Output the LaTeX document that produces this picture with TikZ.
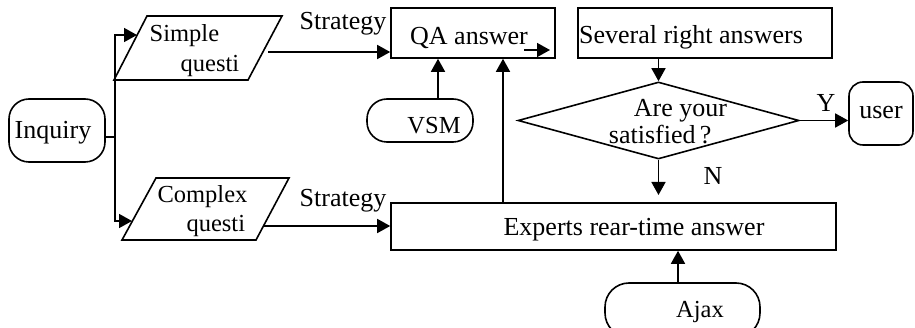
\documentclass[tikz,border=0pt]{standalone}
\usepackage{fontspec}
\setmainfont{Liberation Serif}
\usetikzlibrary{arrows.meta,shapes.geometric}
\begin{document}
\begin{tikzpicture}[x=1pt,y=-1pt,
  line width=1.6pt,
  shp/.style={draw,inner sep=0pt,line width=1.6pt},
  para/.style={draw,line width=1.6pt,line join=miter},
  txt/.style={font=\fontsize{26}{20}\selectfont,inner sep=0pt,anchor=base},
  stxt/.style={font=\fontsize{24.5}{20}\selectfont,inner sep=0pt,anchor=base},
  mtxt/.style={font=\fontsize{#1}{#1}\selectfont,inner sep=0pt,align=left,anchor=center},
  arr/.style={-{Triangle[length=13pt,width=14pt]},line width=1.6pt}]
\useasboundingbox (0,0) rectangle (915,328);
\fill[white] (0,0) rectangle (915,328);
\clip (0,0) rectangle (915,328);
% shapes
\node[shp,rounded corners=20pt,minimum width=96pt,minimum height=63pt] (inq) at (57,130.5) {};
\coordinate (sqbl) at (114,80); \coordinate (sqtl) at (147,16);
\coordinate (sqtr) at (282,16); \coordinate (sqbr) at (248,80);
\draw[para] (sqbl) -- (sqtl) -- (sqtr) -- (sqbr) -- cycle;
\coordinate (cqbl) at (122,240); \coordinate (cqtl) at (156,178);
\coordinate (cqtr) at (289,178); \coordinate (cqbr) at (256,240);
\draw[para] (cqbl) -- (cqtl) -- (cqtr) -- (cqbr) -- cycle;
\node[shp,minimum width=164pt,minimum height=50pt] (qa) at (473,33) {};
\node[shp,minimum width=254pt,minimum height=50pt] (sev) at (705,33) {};
\node[shp,diamond,minimum width=281pt,minimum height=77pt] (dia) at (658.5,120.5) {};
\node[shp,rounded corners=14pt,minimum width=64pt,minimum height=63pt] (user) at (881,113.5) {};
\node[shp,rounded corners=20pt,minimum width=106pt,minimum height=43pt] (vsm) at (420,120.5) {};
\node[shp,minimum width=445pt,minimum height=47pt] (exp) at (613.5,226.5) {};
\node[shp,rounded corners=24pt,minimum width=155pt,minimum height=54pt] (ajax) at (682.5,310) {};
% texts
\node[txt] (tinq) at (53,139) {Inquiry};
\node[mtxt=24.5] (tsq) at (194.5,50.5) {Simple\\[5pt]\hspace*{31pt}questi};
\node[mtxt=24.5] (tcq) at (202.5,211) {Complex\\[4pt]\hspace*{29pt}questi};
\node[txt] (ts1) at (343,30) {Strategy};
\node[txt] (ts2) at (343,207) {Strategy};
\node[txt] (tqa) at (469,45) {QA answer};
\node[txt] (tsev) at (691,44) {Several right answers};
\node[mtxt=26] (tdia) at (668,121.5) {\hspace*{25pt}Are your\\[1pt]satisfied\,?};
\node[stxt] (tvsm) at (434,134) {VSM};
\node[txt] (ty) at (826,112) {Y};
\node[txt] (tuser) at (881,119) {user};
\node[txt] (tn) at (713,185) {N};
\node[txt] (texp) at (634,236) {Experts rear-time answer};
\node[stxt] (tajax) at (700,318) {Ajax};
% connectors
\coordinate (j) at (115,137);
\coordinate (sqin) at (137,35);
\coordinate (cqin) at (132,221);
\coordinate (sqout) at (268,52);
\coordinate (cqout) at (264,226);
\coordinate (xv) at (438,0);
\coordinate (xe) at (503,0);
\coordinate (xa) at (678,0);
\coordinate (ntip) at (658.5,195);
\coordinate (qs) at (524,50);
\coordinate (qe) at (550,50);
\draw (inq.east |- j) -- (j);
\draw[arr] (j) |- (sqin);
\draw[arr] (j) |- (cqin);
\draw[arr] (sqout) -- (qa.west |- sqout);
\draw[arr] (cqout) -- (exp.west |- cqout);
\draw[arr] (vsm.north -| xv) -- (qa.south -| xv);
\draw[arr] (exp.north -| xe) -- (qa.south -| xe);
\draw[arr] (sev.south -| dia.north) -- (dia.north);
\draw[arr] (dia.east) -- (user.west |- dia.east);
\draw[arr] (dia.south) -- (ntip);
\draw[arr] (ajax.north -| xa) -- (exp.south -| xa);
\draw[arr] (qs) -- (qe);
\end{tikzpicture}
\end{document}
